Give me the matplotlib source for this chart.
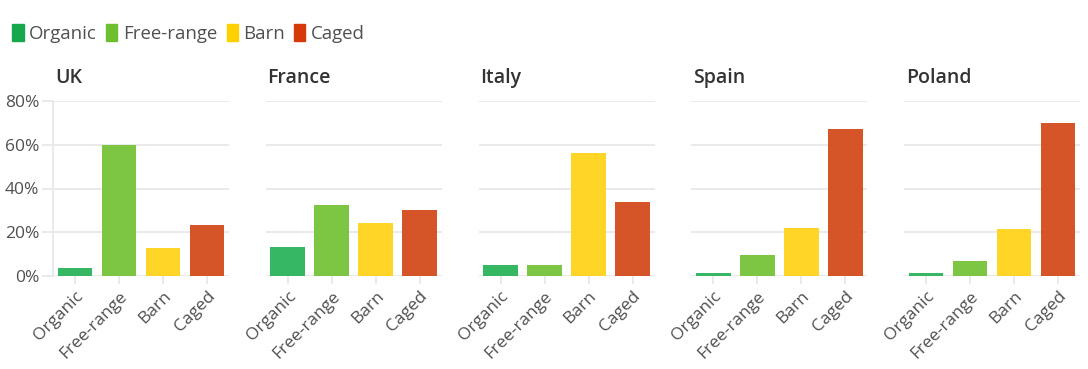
"""Egg production systems by country, small multiples."""

import matplotlib.pyplot as plt
import numpy as np

plt.rcParams["font.family"] = ["Open Sans", "DejaVu Sans"]

# Data (share of eggs, %)
systems = ["Organic", "Free-range", "Barn", "Caged"]
countries = ["UK", "France", "Italy", "Spain", "Poland"]
uk = [3.7, 60.0, 12.8, 23.3]
france = [13.2, 32.4, 24.2, 30.1]
italy = [5.0, 5.0, 56.2, 33.8]
spain = [1.4, 9.6, 21.8, 67.0]
poland = [1.5, 6.7, 21.5, 69.9]
yticks = [0, 20, 40, 60, 80]

bar_colors = ["#2bb35c", "#76c33a", "#ffd41c", "#d34b1c"]
legend_colors = ["#16a84a", "#6cbf2f", "#ffd000", "#d63a0a"]
grid_color = "#e8e8e8"
text_color = "#505050"

fig = plt.figure(figsize=(10.88, 3.69), dpi=100)

series = [uk, france, italy, spain, poland]
x = np.arange(len(systems))
left0, width, step = 53 / 1088, 176 / 1088, 212.75 / 1088
bottom, height = 1 - 276 / 369, 175 / 369

for i, (name, vals) in enumerate(zip(countries, series)):
    ax = fig.add_axes([left0 + i * step, bottom, width, height])
    ax.bar(x, vals, width=0.79, color=bar_colors, alpha=0.95, zorder=3)
    ax.set_xlim(-0.5, 3.5)
    ax.set_ylim(0, 80)
    ax.set_yticks(yticks)
    ax.grid(axis="y", color=grid_color, linewidth=1.3, zorder=0)
    for s in ax.spines.values():
        s.set_visible(False)
    if i == 0:
        ax.set_yticklabels([f"{t}%" for t in yticks])
        ax.spines["left"].set_visible(True)
        ax.spines["left"].set_color(grid_color)
        ax.spines["left"].set_linewidth(1.3)
        ax.tick_params(axis="y", length=8, color=grid_color, width=1.3,
                       labelsize=12.5, labelcolor=text_color, pad=2)
    else:
        ax.tick_params(axis="y", length=0, labelleft=False)
    ax.set_xticks(x)
    ax.set_xticklabels(systems, rotation=45, ha="right", rotation_mode="anchor")
    ax.tick_params(axis="x", length=6, color=grid_color, width=1.3,
                   labelsize=12.5, labelcolor=text_color, pad=3)
    ax.set_title(name, loc="left", fontsize=14, fontweight="semibold",
                 color="#333333", pad=13, x=0.01)

# Legend across the top
handles = [plt.Rectangle((0, 0), 1, 1, color=c) for c in legend_colors]
fig.legend(handles, systems, loc="upper left", bbox_to_anchor=(-0.004, 0.98),
           ncol=4, frameon=False, fontsize=13.4, handlelength=0.6,
           handleheight=1.0, handletextpad=0.3, columnspacing=0.5,
           labelcolor=text_color)

fig.savefig("out.png", dpi=100)
